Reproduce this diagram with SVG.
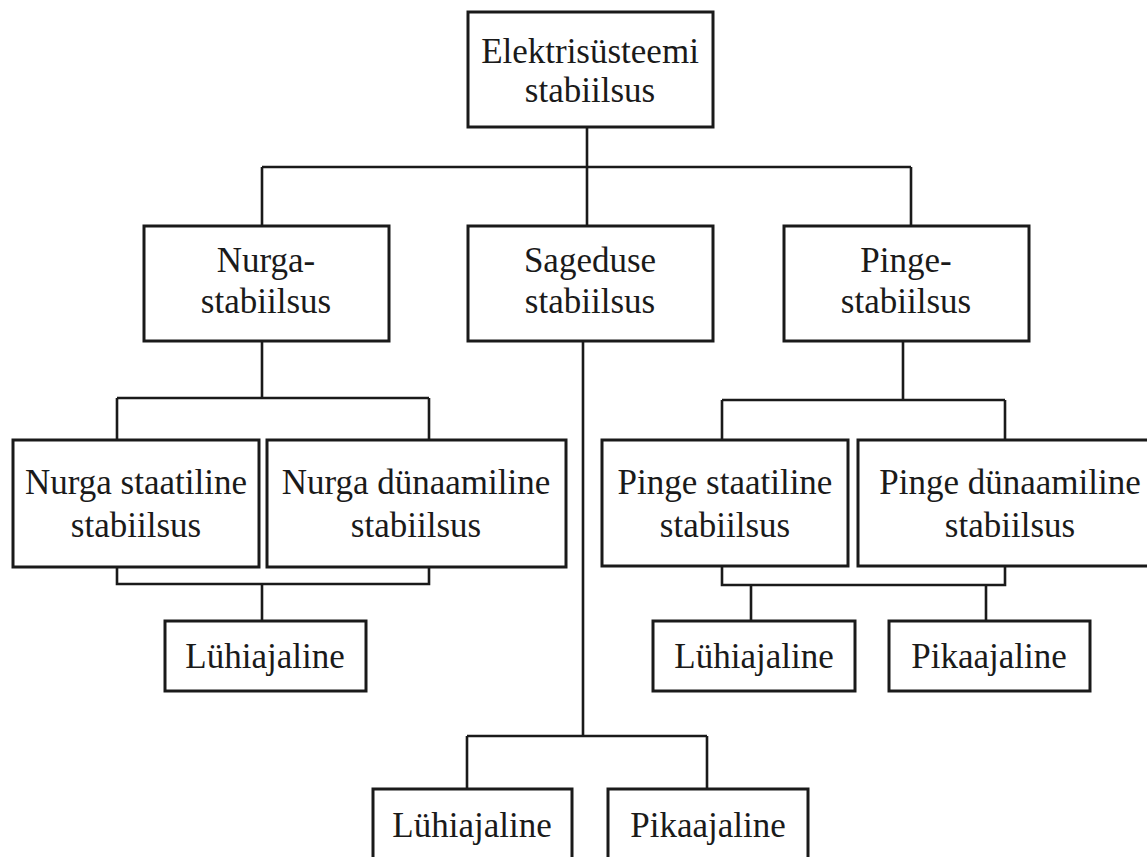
<svg xmlns="http://www.w3.org/2000/svg" width="1147" height="857" viewBox="0 0 1147 857">
<style>
.box{fill:#fff;stroke:#1a1a1a;stroke-width:3}
.ln{fill:none;stroke:#1a1a1a;stroke-width:2.6}
text{font-family:"Liberation Serif","Times New Roman",serif;font-size:35px;fill:#1a1a1a;text-anchor:middle}
</style>
<rect width="1147" height="857" fill="#fff"/>
<g id="connectors" class="ln">
<path d="M587 127V167M262 167H911M262 167V226M587 167V226M911 167V226"/>
<path d="M262 341V398M117 398H429M117 398V440M429 398V440"/>
<path d="M117 567V584H429V567M262 584V621"/>
<path d="M903 341V400M722 400H1005M722 400V440M1005 400V440"/>
<path d="M722 566V585H1005V566M751 585V621M986 585V621"/>
<path d="M583 341V736M467 736H707M467 736V789M707 736V789"/>
</g>
<g id="n-root"><rect class="box" x="468" y="12" width="245" height="115"/><text x="590" y="63">Elektrisüsteemi</text><text x="590" y="102">stabiilsus</text></g>
<g id="n-nurga"><rect class="box" x="144" y="226" width="245" height="115"/><text x="266" y="272">Nurga-</text><text x="266" y="313">stabiilsus</text></g>
<g id="n-sageduse"><rect class="box" x="468" y="226" width="245" height="115"/><text x="590" y="272">Sageduse</text><text x="590" y="313">stabiilsus</text></g>
<g id="n-pinge"><rect class="box" x="784" y="226" width="245" height="115"/><text x="906" y="272">Pinge-</text><text x="906" y="313">stabiilsus</text></g>
<g id="n-nurga-staat"><rect class="box" x="13" y="440" width="246" height="127"/><text x="136" y="494">Nurga staatiline</text><text x="136" y="537">stabiilsus</text></g>
<g id="n-nurga-dyn"><rect class="box" x="267" y="440" width="299" height="127"/><text x="416" y="494">Nurga dünaamiline</text><text x="416" y="537">stabiilsus</text></g>
<g id="n-pinge-staat"><rect class="box" x="602" y="440" width="246" height="126"/><text x="725" y="494">Pinge staatiline</text><text x="725" y="537">stabiilsus</text></g>
<g id="n-pinge-dyn"><rect class="box" x="858" y="440" width="304" height="126"/><text x="1010" y="494">Pinge dünaamiline</text><text x="1010" y="537">stabiilsus</text></g>
<g id="n-nurga-lyhi"><rect class="box" x="165" y="621" width="201" height="70"/><text x="265" y="668">Lühiajaline</text></g>
<g id="n-pinge-lyhi"><rect class="box" x="653" y="621" width="202" height="70"/><text x="754" y="668">Lühiajaline</text></g>
<g id="n-pinge-pika"><rect class="box" x="889" y="621" width="201" height="70"/><text x="989" y="668">Pikaajaline</text></g>
<g id="n-sag-lyhi"><rect class="box" x="373" y="789" width="199" height="80"/><text x="472" y="837">Lühiajaline</text></g>
<g id="n-sag-pika"><rect class="box" x="608" y="789" width="200" height="80"/><text x="708" y="837">Pikaajaline</text></g>
</svg>
